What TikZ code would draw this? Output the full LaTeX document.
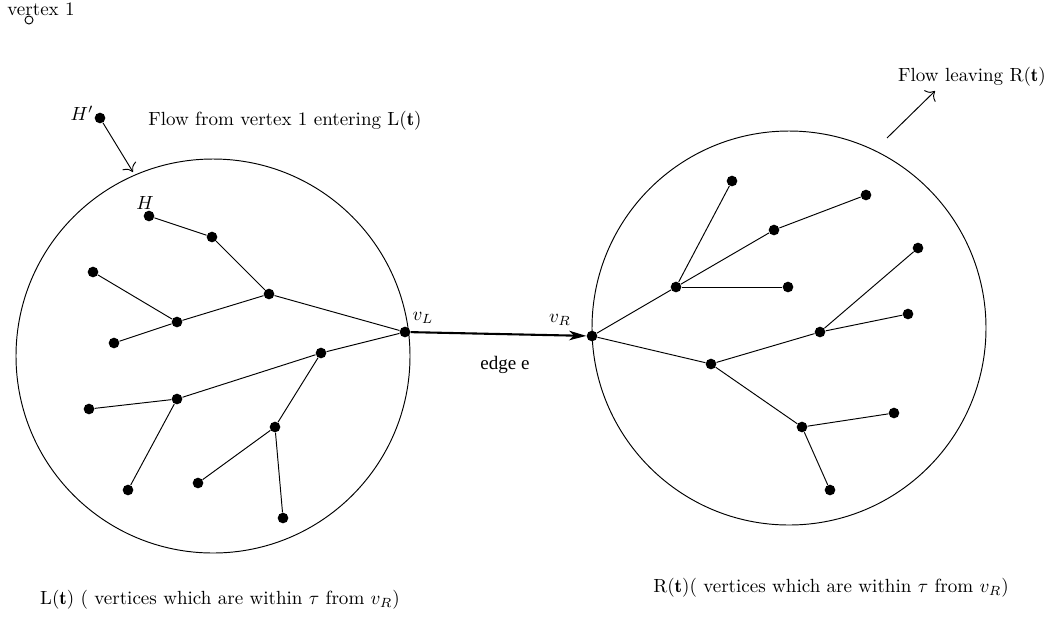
\documentclass[tikz,border=0pt]{standalone}
\usepackage{amsmath, amsfonts}
\usepackage{fontspec}
\newfontfamily\edgefont{Liberation Serif}
\usetikzlibrary{arrows.meta}
\tikzset{
  vert/.style={circle, fill=black, inner sep=0pt, minimum size=5.6pt},
  tree/.style={line width=0.5pt},
  flow/.style={line width=0.5pt, -{To[length=4pt]}}
}

\begin{document}
\begin{tikzpicture}[x=0.525pt, y=-0.525pt]
            \useasboundingbox (0,0) rectangle (1052,622);
            % the two balls
            \draw[line width=0.5pt] (213,356) circle (197*0.525pt);
            \draw[line width=0.5pt] (789,328) circle (197*0.525pt);
            % vertex 1
            \node (v1) at (41,9) {vertex 1};
            \draw[line width=0.5pt] (29,20) circle (2.1pt);
            % left tree L(t)
            \node[vert] (H) at (149,216) {};
            \node[vert] (l1) at (212,237) {};
            \node[vert] (l2) at (269,294) {};
            \node[vert] (l3) at (93,272) {};
            \node[vert] (l4) at (177,322) {};
            \node[vert] (l5) at (114,343) {};
            \node[vert] (vL) at (405,332) {};
            \node[vert] (l6) at (321,353) {};
            \node[vert] (l7) at (177,399) {};
            \node[vert] (l8) at (89,409) {};
            \node[vert] (l9) at (128,490) {};
            \node[vert] (l10) at (275,427) {};
            \node[vert] (l11) at (198,483) {};
            \node[vert] (l12) at (283,518) {};
            \foreach \a/\b in {H/l1, l1/l2, l2/vL, l3/l4, l4/l5, l4/l2,
                               vL/l6, l6/l7, l7/l8, l7/l9, l6/l10, l10/l11, l10/l12}
              \draw[tree] (\a) -- (\b);
            % right tree R(t)
            \node[vert] (vR) at (592,336) {};
            \node[vert] (r1) at (676,287) {};
            \node[vert] (r2) at (732,181) {};
            \node[vert] (r3) at (774,230) {};
            \node[vert] (r4) at (866,195) {};
            \node[vert] (r5) at (788,287) {};
            \node[vert] (r6) at (711,364) {};
            \node[vert] (r7) at (820,332) {};
            \node[vert] (r8) at (918,248) {};
            \node[vert] (r9) at (908,314) {};
            \node[vert] (r10) at (802,427) {};
            \node[vert] (r11) at (894,413) {};
            \node[vert] (r12) at (830,490) {};
            \foreach \a/\b in {vR/r1, r1/r2, r1/r3, r3/r4, r1/r5, vR/r6, r6/r7,
                               r7/r8, r7/r9, r6/r10, r10/r11, r10/r12}
              \draw[tree] (\a) -- (\b);
            % the edge e
            \draw[line width=1.1pt, -{Stealth[length=9pt, width=5pt, inset=2.5pt]}] (vL) -- (vR);
            \node (eL) at (423,318) {$v_L$};
            \node (eR) at (560,320) {$v_R$};
            \node (ee) at (505,365) {\edgefont edge e};
            % flow in and out
            \node[vert] (Hp) at (100,118) {};
            \node (Hplab) at (82,113) {$H'$};
            \node (Hlab) at (145,203) {$H$};
            \coordinate (Hin) at (133,172);
            \draw[flow] (Hp) -- (Hin);
            \node (fin) at (285,121) {Flow from vertex 1 entering L($\mathbf{t}$)};
            \coordinate (Rout0) at (887,138);
            \coordinate (Rout1) at (935,91);
            \draw[flow] (Rout0) -- (Rout1);
            \node (fout) at (972,77) {Flow leaving R($\mathbf{t}$)};
            % captions
            \node (capL) at (220,600) {L($\mathbf{t}$) ( vertices which are within $\tau$ from $v_R$)};
            \node (capR) at (831,588) {R($\mathbf{t}$)( vertices which are within $\tau$ from $v_R$)};
        \end{tikzpicture}
\end{document}
